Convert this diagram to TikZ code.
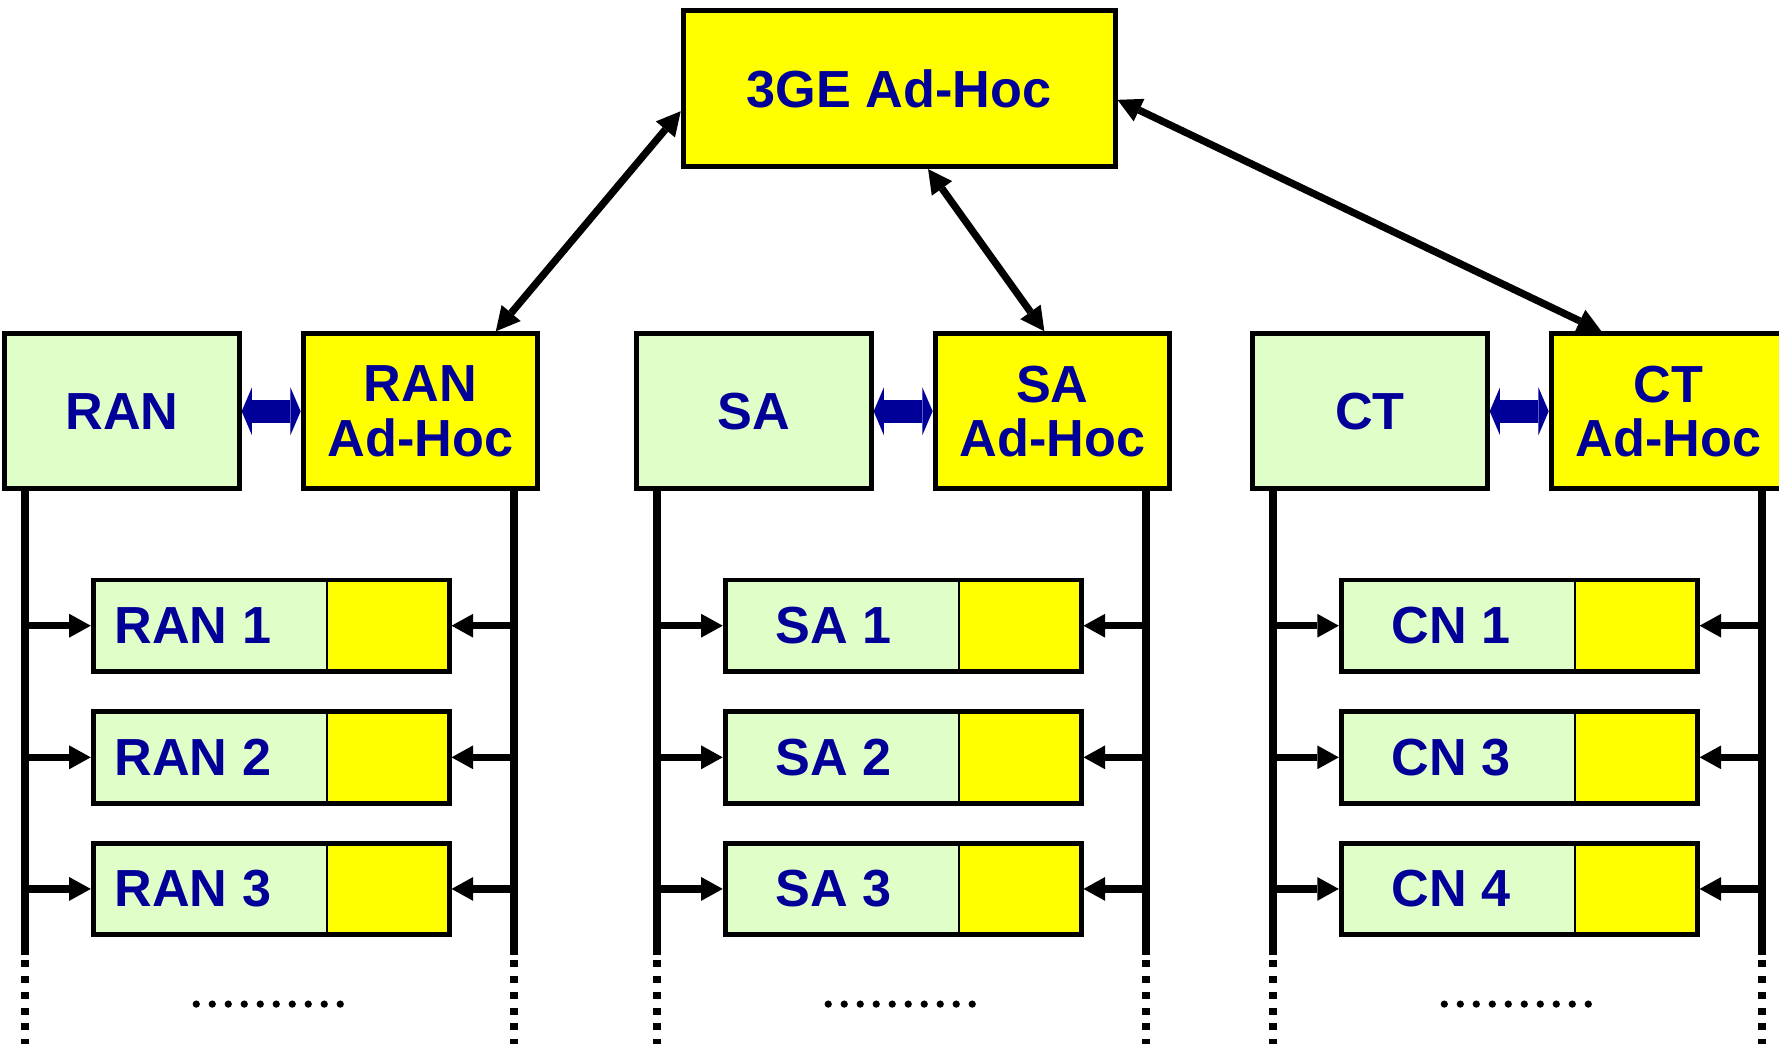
\documentclass[tikz,border=0pt]{standalone}
\usepackage{fontspec}
\setmainfont{Liberation Sans}
\usetikzlibrary{arrows.meta,calc}
\definecolor{tblue}{HTML}{000099}
\definecolor{lgreen}{HTML}{E0FFC8}
\definecolor{yel}{HTML}{FFFF00}
\begin{document}
\begin{tikzpicture}[x=0.5pt,y=-0.5pt,
 lab/.style={font=\bfseries\fontsize{23}{24}\selectfont, text=tblue, align=center, inner sep=0pt},
 bigbox/.style={lab, draw=black, line width=2.2pt, minimum width=103.3pt, minimum height=68.3pt},
 gbig/.style={bigbox, fill=lgreen},
 ybig/.style={bigbox, fill=yel},
 topbox/.style={bigbox, fill=yel, minimum width=190.3pt, minimum height=68.8pt},
 gpart/.style={draw=black, line width=1pt, fill=lgreen, minimum width=102.9pt, minimum height=40.3pt, inner sep=0pt, outer sep=0pt},
 ypart/.style={gpart, fill=yel, minimum width=53.9pt},
 outerbox/.style={draw=black, line width=2.2pt},
 bus/.style={line width=3.2pt},
 busdot/.style={line width=3.3pt, dash pattern=on 3.1pt off 3.9pt},
 harr/.style={line width=3.3pt, shorten >=1.1pt, -{Triangle[length=9.5pt,width=10.5pt,line width=0pt]}},
 darr/.style={line width=3.2pt, {Triangle[length=10.5pt,width=11pt,line width=0pt]}-{Triangle[length=10.5pt,width=11pt,line width=0pt]}},
 barr/.style={line width=10pt, draw=tblue, {Triangle[length=4.5pt,width=21pt,line width=0pt]}-{Triangle[length=4.5pt,width=21pt,line width=0pt]}},
 dotc/.style={fill=black}
]
\useasboundingbox (0,0) rectangle (1568,920);
\clip (0,0) rectangle (1568,920);

\node[topbox] (ge) at (792.5,78) {3GE Ad-Hoc};

\foreach \cn/\dx/\t/\p/\lx/\ns in {ran/0/RAN/RAN/170/{1,2,3}, sa/557/SA/SA/178/{1,2,3}, ct/1100/CT/CN/179/{1,3,4}} {
  \begin{scope}[xshift=\dx*0.5pt]
    \node[gbig] (\cn) at (107.5,362.5) {\t};
    \node[ybig] (\cn ah) at (370.5,362.5) {\t\\Ad-Hoc};
    \draw[barr] (\cn.east) -- (\cn ah.west);
    \coordinate (\cn L) at (22,842);
    \coordinate (\cn R) at (453,842);
    \draw[bus] (\cn L |- \cn.south) -- (\cn L);
    \draw[bus] (\cn R |- \cn ah.south) -- (\cn R);
    \draw[busdot] ($(\cn L)+(0,4)$) -- ++(0,100);
    \draw[busdot] ($(\cn R)+(0,4)$) -- ++(0,100);
    \foreach \k [count=\r] in \ns {
      \pgfmathsetmacro\yy{551.5+116*(\r-1)}
      \node[gpart] (\cn g\r) at (185.1,\yy) {};
      \node[ypart] (\cn y\r) at (341.9,\yy) {};
      \draw[outerbox] (\cn g\r.north west) rectangle (\cn y\r.south east);
      \node[lab] (\cn t\r) at (\lx,\yy) {\p~\k};
      \draw[harr] (\cn L |- \cn g\r.west) -- (\cn g\r.west);
      \draw[harr] (\cn R |- \cn y\r.east) -- (\cn y\r.east);
    }
    \foreach \i in {0,...,9} {
      \fill[dotc] (173+14.1*\i,885) circle[radius=1.6pt];
    }
  \end{scope}
}

\draw[darr] ($(ge.west)+(0,20)$) -- ($(ranah.north)+(66.5,0)$);
\draw[darr] ($(ge.south)+(25.5,0)$) -- ($(saah.north)+(-7,0)$);
\draw[darr] ($(ge.east)+(0,10)$) -- ($(ctah.north)+(-59,0)$);
\end{tikzpicture}
\end{document}
